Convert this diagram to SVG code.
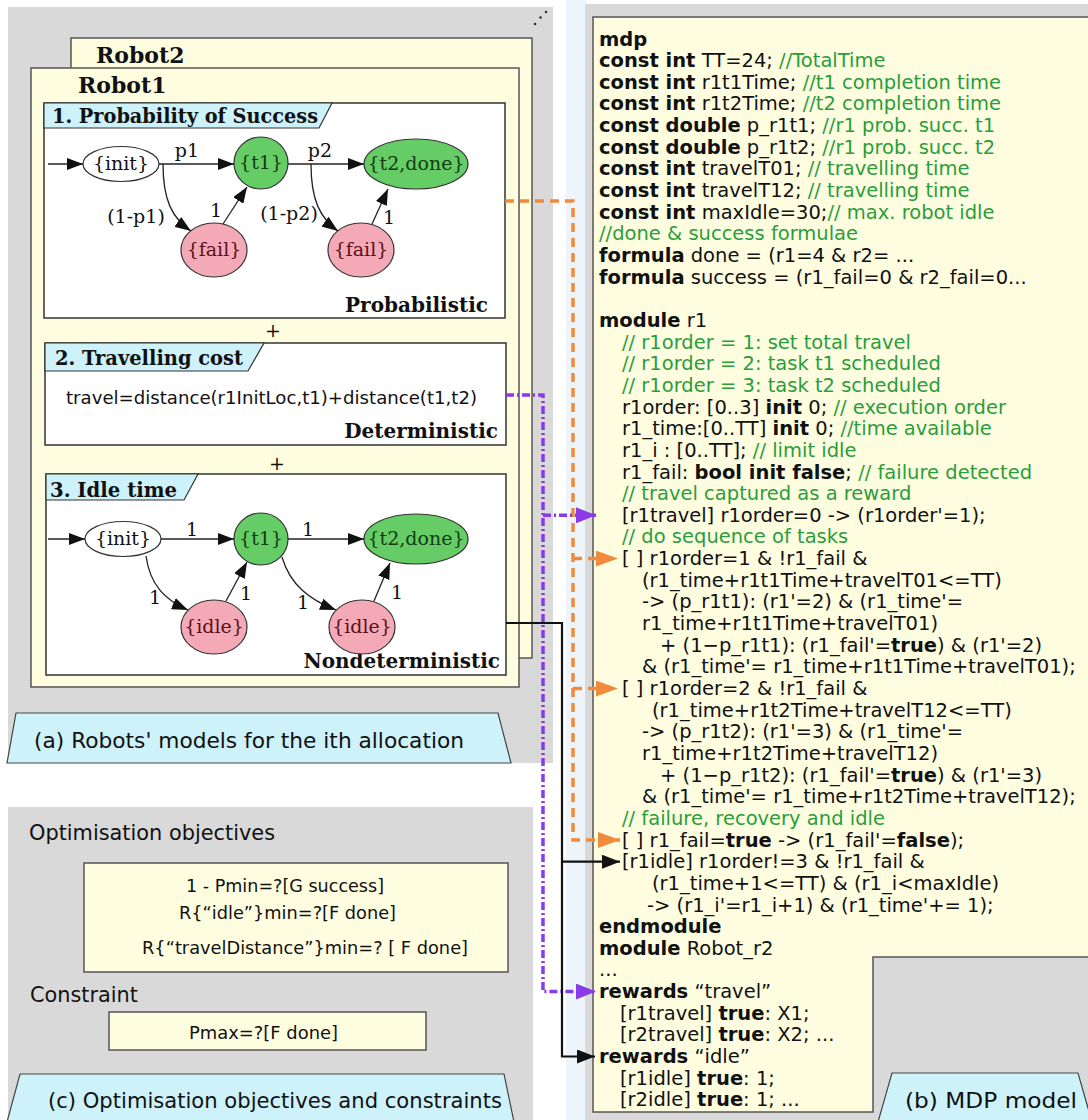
<svg xmlns="http://www.w3.org/2000/svg" width="1088" height="1120" viewBox="0 0 1088 1120">
<style>
.gray{fill:#d9d9d9}
.yel{fill:#fefde0;stroke:#555;stroke-width:1.5}
.box{fill:#fff;stroke:#333;stroke-width:1.5}
.ttl{fill:#cdf2fa;stroke:#333;stroke-width:1.2}
.lbl{fill:#cdf2fa;stroke:#444;stroke-width:1.2}
.srfb{font-family:"DejaVu Serif","Liberation Serif",serif;font-weight:bold;fill:#111}
.srf{font-family:"DejaVu Serif","Liberation Serif",serif;font-size:19px;fill:#111}
.sans{font-family:"DejaVu Sans","Liberation Sans",sans-serif;fill:#111}
.code{font-family:"DejaVu Sans","Liberation Sans",sans-serif;font-size:19.5px;fill:#111}
.b{font-weight:bold}
.g{fill:#2a9d3c}
.ng{fill:#66cc66;stroke:#333;stroke-width:1.2}
.np{fill:#f4aab6;stroke:#333;stroke-width:1.2}
.nw{fill:#fff;stroke:#333;stroke-width:1.2}
.tg{fill:#123d12}
.tp{fill:#5a1020}
.edge{fill:none;stroke:#222;stroke-width:1.3;marker-end:url(#ah)}
.or{fill:none;stroke:#f08a3c;stroke-width:3.5;stroke-dasharray:9 6}
.pu{fill:none;stroke:#8a3ae6;stroke-width:3.5;stroke-dasharray:8 3 2 3}
.bk{fill:none;stroke:#111;stroke-width:2.2}
</style>
<defs>
<marker id="ah" viewBox="0 0 16 12" markerWidth="16" markerHeight="12" refX="16" refY="6" orient="auto" markerUnits="userSpaceOnUse"><path d="M0,0 L16,6 L0,12 z" fill="#111"/></marker>
<marker id="ao" viewBox="0 0 22 16" markerWidth="22" markerHeight="16" refX="22" refY="8" orient="auto" markerUnits="userSpaceOnUse"><path d="M0,0 L22,8 L0,16 z" fill="#f08a3c"/></marker>
<marker id="ap" viewBox="0 0 20 16" markerWidth="20" markerHeight="16" refX="20" refY="8" orient="auto" markerUnits="userSpaceOnUse"><path d="M0,0 L20,8 L0,16 z" fill="#8a3ae6"/></marker>
<marker id="ak" viewBox="0 0 18 14" markerWidth="18" markerHeight="14" refX="18" refY="7" orient="auto" markerUnits="userSpaceOnUse"><path d="M0,0 L18,7 L0,14 z" fill="#111"/></marker>
</defs>
<rect width="1088" height="1120" fill="#fff"/>

<g id="panel-a">
<rect class="gray" x="8" y="7" width="545" height="756"/>
<circle cx="535" cy="24" r="1.3" fill="#333"/><circle cx="540.5" cy="17.5" r="1.3" fill="#333"/><circle cx="546" cy="12" r="1.3" fill="#333"/>
</g>
<g id="robot2">
<rect class="yel" x="71" y="38" width="461" height="620"/>
<text class="srfb" x="96" y="63" font-size="22">Robot2</text>
</g>
<g id="robot1">
<rect class="yel" x="31" y="68" width="488" height="619"/>
<text class="srfb" x="78" y="93" font-size="22">Robot1</text>
<text class="srf" x="273" y="337" font-size="26" text-anchor="middle">+</text>
<text class="srf" x="277" y="470" font-size="26" text-anchor="middle">+</text>
</g>

<g id="box-prob">
<rect class="box" x="44" y="103" width="461" height="215"/>
<polygon class="ttl" points="44,103 332,103 319,128 44,128"/>
<text class="srfb" x="52" y="123" font-size="20" textLength="266" lengthAdjust="spacingAndGlyphs">1. Probability of Success</text>
<text class="srfb" x="488" y="312" font-size="20" text-anchor="end">Probabilistic</text>
</g>
<g id="p-init"><ellipse class="nw" cx="121" cy="164" rx="38" ry="17.5"/><text class="srf" x="121" y="170" text-anchor="middle">{init}</text></g>
<g id="p-t1"><ellipse class="ng" cx="261" cy="163" rx="27" ry="26"/><text class="srf tg" x="261" y="169" text-anchor="middle">{t1}</text></g>
<g id="p-t2done"><ellipse class="ng" cx="416" cy="164" rx="52" ry="25"/><text class="srf tg" x="416" y="170" text-anchor="middle" font-size="18.5">{t2,done}</text></g>
<g id="p-fail1"><ellipse class="np" cx="214" cy="250" rx="33" ry="27"/><text class="srf tp" x="214" y="256" text-anchor="middle">{fail}</text></g>
<g id="p-fail2"><ellipse class="np" cx="361" cy="250" rx="33" ry="27"/><text class="srf tp" x="361" y="256" text-anchor="middle">{fail}</text></g>

<g id="box-travel">
<rect class="box" x="45" y="343" width="461" height="102"/>
<polygon class="ttl" points="45,343 264,343 248,371 45,371"/>
<text class="srfb" x="55" y="365" font-size="20" textLength="188" lengthAdjust="spacingAndGlyphs">2. Travelling cost</text>
<text class="sans" x="66" y="404" font-size="18" textLength="411" lengthAdjust="spacingAndGlyphs">travel=distance(r1InitLoc,t1)+distance(t1,t2)</text>
<text class="srfb" x="498" y="438" font-size="20" text-anchor="end">Deterministic</text>
</g>

<g id="box-idle">
<rect class="box" x="46" y="474" width="460" height="201"/>
<polygon class="ttl" points="46,474 198,474 184,500 46,500"/>
<text class="srfb" x="50" y="497" font-size="20" textLength="127" lengthAdjust="spacingAndGlyphs">3. Idle time</text>
<text class="srfb" x="500" y="668" font-size="20" text-anchor="end">Nondeterministic</text>
</g>
<g id="i-init"><ellipse class="nw" cx="123" cy="539" rx="38" ry="17.5"/><text class="srf" x="123" y="545" text-anchor="middle">{init}</text></g>
<g id="i-t1"><ellipse class="ng" cx="261" cy="539" rx="27" ry="26"/><text class="srf tg" x="261" y="545" text-anchor="middle">{t1}</text></g>
<g id="i-t2done"><ellipse class="ng" cx="416" cy="539" rx="52" ry="25"/><text class="srf tg" x="416" y="545" text-anchor="middle" font-size="18.5">{t2,done}</text></g>
<g id="i-idle1"><ellipse class="np" cx="214" cy="627" rx="33" ry="27"/><text class="srf tp" x="214" y="633" text-anchor="middle">{idle}</text></g>
<g id="i-idle2"><ellipse class="np" cx="362" cy="627" rx="33" ry="27"/><text class="srf tp" x="362" y="633" text-anchor="middle">{idle}</text></g>

<g id="label-a">
<polygon class="lbl" points="16,713 498,713 511,763 7,763"/>
<text class="sans" x="34" y="748" font-size="21.5" textLength="430" lengthAdjust="spacingAndGlyphs">(a) Robots' models for the ith allocation</text>
</g>

<g id="panel-c">
<rect class="gray" x="8" y="807" width="525" height="313"/>
<text class="sans" x="29" y="840" font-size="21" textLength="246" lengthAdjust="spacingAndGlyphs">Optimisation objectives</text>
<text class="sans" x="30" y="1002" font-size="21" textLength="108" lengthAdjust="spacingAndGlyphs">Constraint</text>
</g>
<g id="obj-box">
<rect class="yel" x="84" y="863" width="424" height="109"/>
<text class="sans" x="186" y="892" font-size="18" textLength="198" lengthAdjust="spacingAndGlyphs">1 - Pmin=?[G success]</text>
<text class="sans" x="179" y="919" font-size="18" textLength="217" lengthAdjust="spacingAndGlyphs">R{“idle”}min=?[F done]</text>
<text class="sans" x="142" y="954" font-size="18" textLength="326" lengthAdjust="spacingAndGlyphs">R{“travelDistance”}min=? [ F done]</text>
</g>
<g id="con-box">
<rect class="yel" x="109" y="1012" width="317" height="38"/>
<text class="sans" x="189" y="1039" font-size="18" textLength="149" lengthAdjust="spacingAndGlyphs">Pmax=?[F done]</text>
</g>
<g id="label-c">
<polygon class="lbl" points="20,1074 504,1074 514,1122 7,1122"/>
<text class="sans" x="48" y="1108" font-size="21.5" textLength="454" lengthAdjust="spacingAndGlyphs">(c) Optimisation objectives and constraints</text>
</g>

<rect x="566" y="0" width="20" height="1120" fill="#eef5fa"/>

<g id="panel-b">
<rect class="gray" x="585" y="4" width="503" height="1116"/>
<polygon class="yel" points="593,17 1090,17 1090,957 873,957 873,1112 593,1112"/>
</g>
<g id="mdp-code" class="code">
<text x="599" y="45.5"><tspan class="b">mdp</tspan></text>
<text x="599" y="67.15"><tspan class="b">const int</tspan> TT=24; <tspan class="g">//TotalTime</tspan></text>
<text x="599" y="88.8"><tspan class="b">const int</tspan> r1t1Time; <tspan class="g">//t1 completion time</tspan></text>
<text x="599" y="110.45"><tspan class="b">const int</tspan> r1t2Time; <tspan class="g">//t2 completion time</tspan></text>
<text x="599" y="132.1"><tspan class="b">const double</tspan> p_r1t1; <tspan class="g">//r1 prob. succ. t1</tspan></text>
<text x="599" y="153.75"><tspan class="b">const double</tspan> p_r1t2; <tspan class="g">//r1 prob. succ. t2</tspan></text>
<text x="599" y="175.4"><tspan class="b">const int</tspan> travelT01; <tspan class="g">// travelling time</tspan></text>
<text x="599" y="197.05"><tspan class="b">const int</tspan> travelT12; <tspan class="g">// travelling time</tspan></text>
<text x="599" y="218.7"><tspan class="b">const int</tspan> maxIdle=30;<tspan class="g">// max. robot idle</tspan></text>
<text x="599" y="240.35"><tspan class="g">//done &amp; success formulae</tspan></text>
<text x="599" y="262"><tspan class="b">formula</tspan> done = (r1=4 &amp; r2= ...</text>
<text x="599" y="283.65"><tspan class="b">formula</tspan> success = (r1_fail=0 &amp; r2_fail=0...</text>
<text x="599" y="326.95"><tspan class="b">module</tspan> r1</text>
<text x="622" y="348.6"><tspan class="g">// r1order = 1: set total travel</tspan></text>
<text x="622" y="370.25"><tspan class="g">// r1order = 2: task t1 scheduled</tspan></text>
<text x="622" y="391.9"><tspan class="g">// r1order = 3: task t2 scheduled</tspan></text>
<text x="622" y="413.55">r1order: [0..3] <tspan class="b">init</tspan> 0; <tspan class="g">// execution order</tspan></text>
<text x="622" y="435.2">r1_time:[0..TT] <tspan class="b">init</tspan> 0; <tspan class="g">//time available</tspan></text>
<text x="622" y="456.85">r1_i : [0..TT]; <tspan class="g">// limit idle</tspan></text>
<text x="622" y="478.5">r1_fail: <tspan class="b">bool init false</tspan>; <tspan class="g">// failure detected</tspan></text>
<text x="622" y="500.15"><tspan class="g">// travel captured as a reward</tspan></text>
<text x="622" y="521.8">[r1travel] r1order=0 -&gt; (r1order'=1);</text>
<text x="622" y="543.45"><tspan class="g">// do sequence of tasks</tspan></text>
<text x="622" y="565.1">[ ] r1order=1 &amp; !r1_fail &amp;</text>
<text x="642" y="586.75">(r1_time+r1t1Time+travelT01&lt;=TT)</text>
<text x="642" y="608.4">-&gt; (p_r1t1): (r1'=2) &amp; (r1_time'=</text>
<text x="642" y="630.05">r1_time+r1t1Time+travelT01)</text>
<text x="660" y="651.7">+ (1−p_r1t1): (r1_fail'=<tspan class="b">true</tspan>) &amp; (r1'=2)</text>
<text x="642" y="673.35">&amp; (r1_time'= r1_time+r1t1Time+travelT01);</text>
<text x="622" y="695">[ ] r1order=2 &amp; !r1_fail &amp;</text>
<text x="652" y="716.65">(r1_time+r1t2Time+travelT12&lt;=TT)</text>
<text x="642" y="738.3">-&gt; (p_r1t2): (r1'=3) &amp; (r1_time'=</text>
<text x="642" y="759.95">r1_time+r1t2Time+travelT12)</text>
<text x="660" y="781.6">+ (1−p_r1t2): (r1_fail'=<tspan class="b">true</tspan>) &amp; (r1'=3)</text>
<text x="642" y="803.25">&amp; (r1_time'= r1_time+r1t2Time+travelT12);</text>
<text x="622" y="824.9"><tspan class="g">// failure, recovery and idle</tspan></text>
<text x="622" y="846.55">[ ] r1_fail=<tspan class="b">true</tspan> -&gt; (r1_fail'=<tspan class="b">false</tspan>);</text>
<text x="622" y="868.2">[r1idle] r1order!=3 &amp; !r1_fail &amp;</text>
<text x="652" y="889.85">(r1_time+1&lt;=TT) &amp; (r1_i&lt;maxIdle)</text>
<text x="647" y="911.5">-&gt; (r1_i'=r1_i+1) &amp; (r1_time'+= 1);</text>
<text x="599" y="933.15"><tspan class="b">endmodule</tspan></text>
<text x="599" y="954.8"><tspan class="b">module</tspan> Robot_r2</text>
<text x="599" y="976.45">...</text>
<text x="599" y="998.1"><tspan class="b">rewards</tspan> “travel”</text>
<text x="620" y="1019.75">[r1travel] <tspan class="b">true</tspan>: X1;</text>
<text x="620" y="1041.4">[r2travel] <tspan class="b">true</tspan>: X2; ...</text>
<text x="599" y="1063.05"><tspan class="b">rewards</tspan> “idle”</text>
<text x="620" y="1084.7">[r1idle] <tspan class="b">true</tspan>: 1;</text>
<text x="620" y="1106.35">[r2idle] <tspan class="b">true</tspan>: 1; ...</text>
</g>
<g id="label-b">
<polygon class="lbl" points="892,1073 1078,1073 1092,1122 878,1122"/>
<text class="sans" x="905" y="1108" font-size="22" textLength="172" lengthAdjust="spacingAndGlyphs">(b) MDP model</text>
</g>

<g id="connectors">
<path class="edge" d="M48,164 H83"/>
<path class="edge" d="M159,164 H234"/>
<path class="edge" d="M288,164 H364"/>
<path class="edge" d="M163,164 C163,200 172,218 191,231"/>
<path class="edge" d="M223,224 L247,187"/>
<path class="edge" d="M311,164 C311,200 320,218 338,231"/>
<path class="edge" d="M372,224 L388,189"/>
<text class="srf" x="187" y="157" text-anchor="middle">p1</text>
<text class="srf" x="320" y="157" text-anchor="middle">p2</text>
<text class="srf" x="136" y="223" text-anchor="middle">(1-p1)</text>
<text class="srf" x="216" y="217" text-anchor="middle">1</text>
<text class="srf" x="289" y="220" text-anchor="middle">(1-p2)</text>
<text class="srf" x="389" y="224" text-anchor="middle">1</text>

<path class="edge" d="M48,539 H85"/>
<path class="edge" d="M161,539 H234"/>
<path class="edge" d="M288,539 H364"/>
<path class="edge" d="M146,556 C150,585 165,600 188,610"/>
<path class="edge" d="M226,601 L247,562"/>
<path class="edge" d="M282,557 C290,585 310,600 336,610"/>
<path class="edge" d="M374,601 L390,563"/>
<text class="srf" x="192" y="536" text-anchor="middle">1</text>
<text class="srf" x="308" y="536" text-anchor="middle">1</text>
<text class="srf" x="155" y="604" text-anchor="middle">1</text>
<text class="srf" x="246" y="600" text-anchor="middle">1</text>
<text class="srf" x="303" y="609" text-anchor="middle">1</text>
<text class="srf" x="397" y="599" text-anchor="middle">1</text>

<path class="or" d="M505,201 H573 V840 H620" marker-end="url(#ao)"/>
<path class="or" d="M573,558.6 H618" marker-end="url(#ao)"/>
<path class="or" d="M573,688.5 H618" marker-end="url(#ao)"/>

<path class="pu" d="M506,395 H543 V991.6 H596" marker-end="url(#ap)"/>
<path class="pu" d="M543,515.3 H596" marker-end="url(#ap)"/>

<path class="bk" d="M506,623 H562 V1056.5 H595" marker-end="url(#ak)"/>
<path class="bk" d="M562,861.7 H620" marker-end="url(#ak)"/>
</g>
</svg>
